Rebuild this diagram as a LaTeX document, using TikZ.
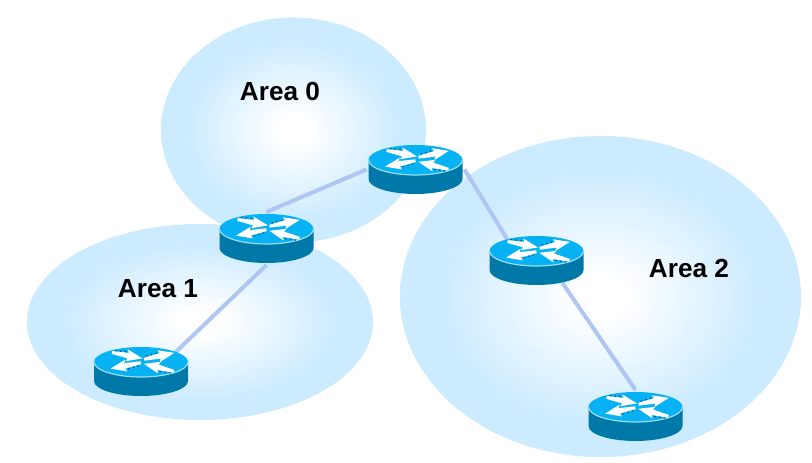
\documentclass[tikz,border=0pt]{standalone}
\usepackage{fontspec}
\setmainfont{Liberation Sans}
\usetikzlibrary{shapes.geometric}
\definecolor{areablue}{HTML}{CCEBFF}
\definecolor{linkblue}{HTML}{AFC6F2}
\definecolor{routertop}{HTML}{07B2F4}
\definecolor{routerside}{HTML}{0079A8}
\definecolor{routerrim}{HTML}{9ADCF2}
\definecolor{markshade}{HTML}{0B3F5C}
\pgfdeclareradialshading{areashade}{\pgfpointorigin}{color(0bp)=(white); color(3bp)=(white); color(20bp)=(areablue); color(50bp)=(areablue)}
\tikzset{
  area/.style={ellipse, shading=areashade, inner sep=0pt, outer sep=0pt},
  routernode/.style={ellipse, minimum width=0.94cm, minimum height=0.49cm, inner sep=0pt, outer sep=0.02cm},
  link/.style={linkblue, line width=0.04cm},
  arealabel/.style={font=\fontsize{7.45}{9}\selectfont\bfseries}
}
% one white arrow on the top face
\newcommand{\routermark}[3]{
  \draw[markshade, densely dotted, line width=0.012cm, shift={(#1,#2)}, rotate=#3] (0.03,0.026) -- (0.15,0.036);
  \fill[white, shift={(#1,#2)}, rotate=#3] (0,-0.014) -- (0.165,-0.028) -- (0.15,-0.06) -- (0.31,0) -- (0.15,0.06) -- (0.165,0.028) -- (0,0.014) -- cycle;
}
\begin{document}
\begin{tikzpicture}
  \useasboundingbox (0,0) rectangle (8.12,4.63);

  % Areas
  \node[area, minimum width=3.46cm, minimum height=1.96cm] (area1) at (2.00,1.41) {};
  \node[area, minimum width=2.65cm, minimum height=2.25cm] (area0) at (2.935,3.33) {};
  \node[area, minimum width=4.01cm, minimum height=3.21cm] (area2) at (6.005,1.665) {};

  % Labels
  \node[arealabel] (label0) at (2.80,3.71) {Area 0};
  \node[arealabel] (label1) at (1.58,1.74) {Area 1};
  \node[arealabel] (label2) at (6.89,1.95) {Area 2};

  % Routers
  \node[routernode] (r0) at (4.155,2.935) {};
  \node[routernode] (r1) at (2.665,2.245) {};
  \node[routernode] (r2) at (5.365,2.025) {};
  \node[routernode] (r3) at (6.355,0.465) {};
  \node[routernode] (r4) at (1.41,0.915) {};

  % Links
  \draw[link] (r1.north) -- (r0.west);
  \draw[link] (r0.east) -- (r2.144);
  \draw[link] (r2.-41) -- (r3.north);
  \draw[link] (r1.south) -- (r4.29);

  % Router bodies
  \foreach \r in {r0,r1,r2,r3,r4} {
    \begin{scope}[shift={(\r)}]
      \fill[routerside] (-0.47,0.095) -- (-0.47,-0.095) arc[start angle=180, end angle=360, x radius=0.47, y radius=0.15] -- (0.47,0.095) -- cycle;
      \fill[routertop] (0,0.095) ellipse[x radius=0.47, y radius=0.15];
      \draw[routerrim, line width=0.012cm] (-0.47,0.095) arc[start angle=180, end angle=360, x radius=0.47, y radius=0.15];
      \routermark{-0.29}{0.19}{-11}
      \routermark{0.03}{0.122}{12}
      \routermark{0}{0.088}{191}
      \routermark{0.33}{0.002}{166}
    \end{scope}
  }
\end{tikzpicture}
\end{document}
